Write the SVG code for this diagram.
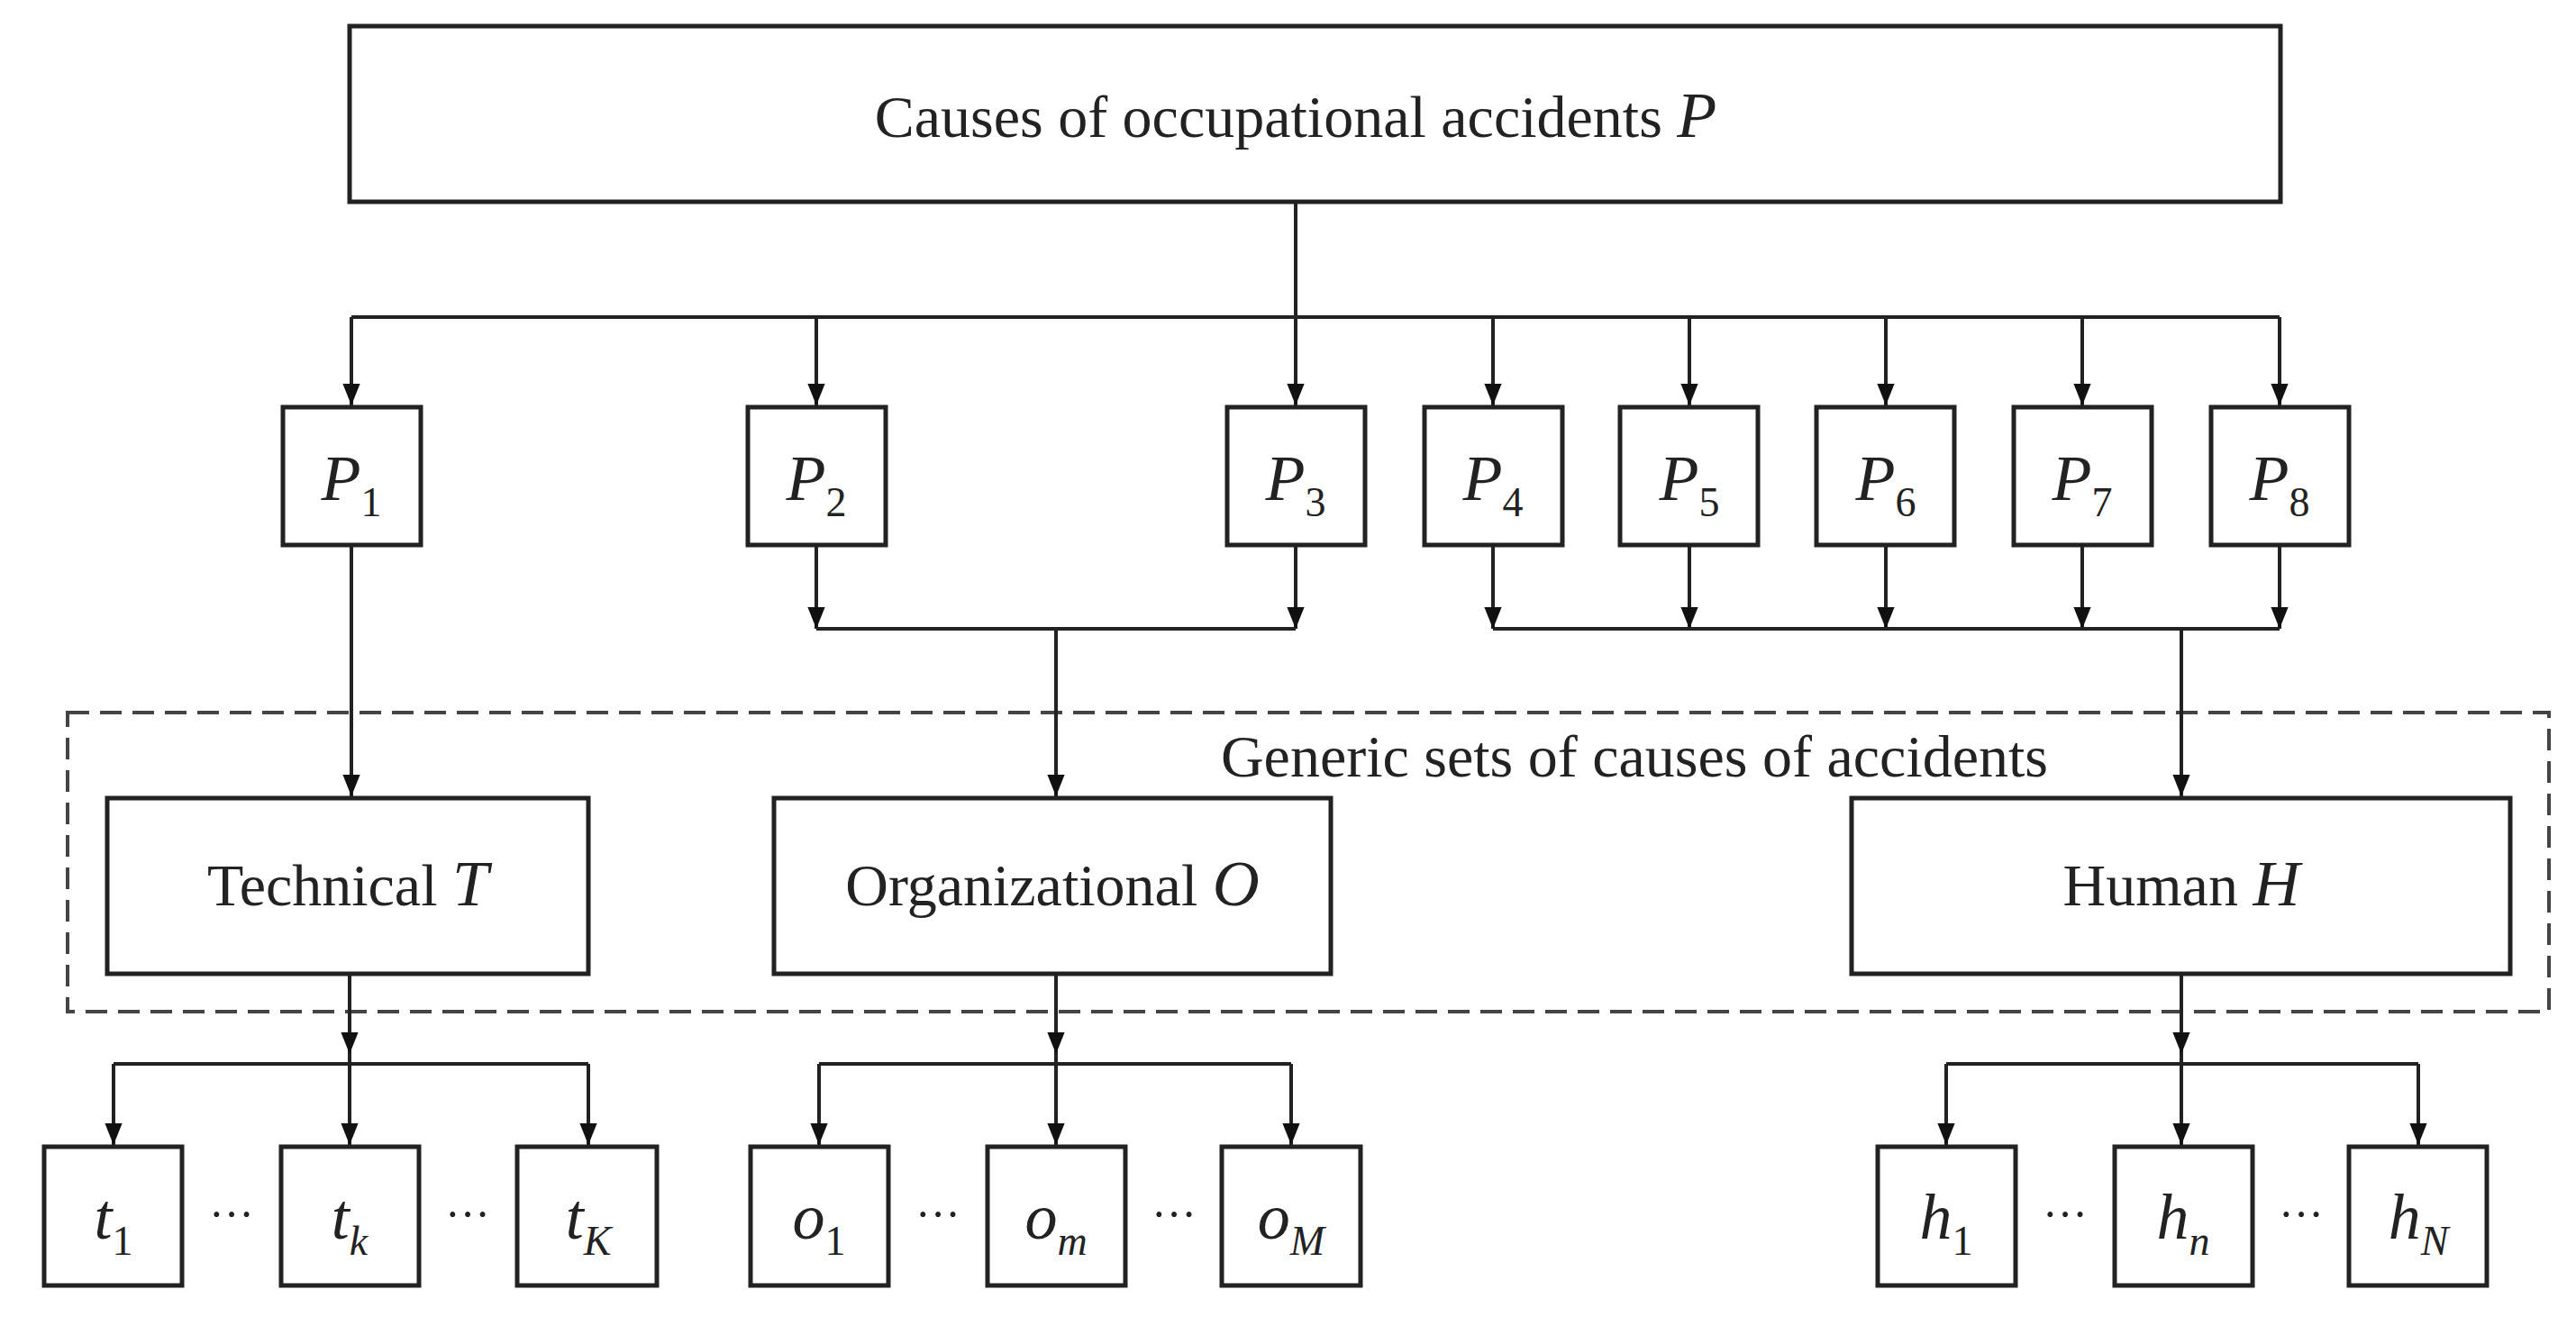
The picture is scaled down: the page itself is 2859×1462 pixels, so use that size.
<svg xmlns="http://www.w3.org/2000/svg" width="2859" height="1462" viewBox="0 0 2859 1462">
<defs>
<marker id="ar" markerWidth="24" markerHeight="30" refX="30" refY="12" orient="auto" markerUnits="userSpaceOnUse" viewBox="0 0 30 24"><path d="M0,0 L30,12 L0,24 z" fill="#111"/></marker>
<style>
.b{fill:#fff;stroke:#222;stroke-width:5}
.c{fill:none;stroke:#222;stroke-width:4}
.a{fill:none;stroke:#222;stroke-width:4;marker-end:url(#ar)}
text{font-family:"Liberation Serif","Times New Roman",serif;fill:#222;text-anchor:middle}
.t{font-size:66px}
.v{font-size:72px;font-style:italic}
.s{font-size:46px;font-style:normal}
.si{font-size:46px;font-style:italic}
</style>
</defs>
<rect x="75" y="791" width="2754" height="332" fill="none" stroke="#444" stroke-width="4" stroke-dasharray="24,12"/>
<text class="t" x="1814" y="862">Generic sets of causes of accidents</text>
<g id="connectors">
<path class="a" d="M1438,224 V450" />
<path class="c" d="M390,352 H2530"/>
<path class="a" d="M390,352 V450"/><path class="a" d="M906,352 V450"/><path class="a" d="M1657,352 V450"/><path class="a" d="M1875,352 V450"/><path class="a" d="M2093,352 V450"/><path class="a" d="M2311,352 V450"/><path class="a" d="M2530,352 V450"/>
<path class="a" d="M906,605 V698"/><path class="a" d="M1438,605 V698"/><path class="c" d="M906,698 H1438"/><path class="a" d="M1172,698 V884"/>
<path class="a" d="M1657,605 V698"/><path class="a" d="M1875,605 V698"/><path class="a" d="M2093,605 V698"/><path class="a" d="M2311,605 V698"/><path class="a" d="M2530,605 V698"/><path class="c" d="M1657,698 H2530"/><path class="a" d="M2421,698 V884"/>
<path class="a" d="M390,605 V884"/>
<path class="a" d="M388,1081 V1170"/><path class="c" d="M126,1181 H653"/><path class="a" d="M126,1181 V1271"/><path class="a" d="M388,1170 V1271"/><path class="a" d="M653,1181 V1271"/>
<path class="a" d="M1172,1081 V1170"/><path class="c" d="M909,1181 H1433"/><path class="a" d="M909,1181 V1271"/><path class="a" d="M1172,1170 V1271"/><path class="a" d="M1433,1181 V1271"/>
<path class="a" d="M2421,1081 V1170"/><path class="c" d="M2160,1181 H2684"/><path class="a" d="M2160,1181 V1271"/><path class="a" d="M2421,1170 V1271"/><path class="a" d="M2684,1181 V1271"/>
</g>
<g id="top"><rect class="b" x="388" y="29" width="2143" height="195"/><text class="t" x="1438" y="152">Causes of occupational accidents <tspan font-style="italic" font-size="72">P</tspan></text></g>
<g id="P1"><rect class="b" x="314" y="452" width="153" height="153"/><text class="v" x="390" y="555">P<tspan class="s" dy="18">1</tspan></text></g>
<g id="P2"><rect class="b" x="830" y="452" width="153" height="153"/><text class="v" x="906" y="555">P<tspan class="s" dy="18">2</tspan></text></g>
<g id="P3"><rect class="b" x="1362" y="452" width="153" height="153"/><text class="v" x="1438" y="555">P<tspan class="s" dy="18">3</tspan></text></g>
<g id="P4"><rect class="b" x="1581" y="452" width="153" height="153"/><text class="v" x="1657" y="555">P<tspan class="s" dy="18">4</tspan></text></g>
<g id="P5"><rect class="b" x="1798" y="452" width="153" height="153"/><text class="v" x="1875" y="555">P<tspan class="s" dy="18">5</tspan></text></g>
<g id="P6"><rect class="b" x="2016" y="452" width="153" height="153"/><text class="v" x="2093" y="555">P<tspan class="s" dy="18">6</tspan></text></g>
<g id="P7"><rect class="b" x="2235" y="452" width="153" height="153"/><text class="v" x="2311" y="555">P<tspan class="s" dy="18">7</tspan></text></g>
<g id="P8"><rect class="b" x="2454" y="452" width="153" height="153"/><text class="v" x="2530" y="555">P<tspan class="s" dy="18">8</tspan></text></g>
<g id="T"><rect class="b" x="119" y="886" width="534" height="195"/><text class="t" x="386" y="1005">Technical <tspan font-style="italic" font-size="72">T</tspan></text></g>
<g id="O"><rect class="b" x="859" y="886" width="618" height="195"/><text class="t" x="1168" y="1005">Organizational <tspan font-style="italic" font-size="72">O</tspan></text></g>
<g id="H"><rect class="b" x="2055" y="886" width="731" height="195"/><text class="t" x="2421" y="1005">Human <tspan font-style="italic" font-size="72">H</tspan></text></g>
<g id="t1"><rect class="b" x="49" y="1273" width="153" height="154"/><text class="v" x="126" y="1375">t<tspan class="s" dy="18">1</tspan></text></g>
<g id="tk"><rect class="b" x="312" y="1273" width="153" height="154"/><text class="v" x="388" y="1375">t<tspan class="si" dy="18">k</tspan></text></g>
<g id="tK"><rect class="b" x="574" y="1273" width="155" height="154"/><text class="v" x="653" y="1375">t<tspan class="si" dy="18">K</tspan></text></g>
<g id="o1"><rect class="b" x="833" y="1273" width="153" height="154"/><text class="v" x="909" y="1375">o<tspan class="s" dy="18">1</tspan></text></g>
<g id="om"><rect class="b" x="1096" y="1273" width="153" height="154"/><text class="v" x="1172" y="1375">o<tspan class="si" dy="18">m</tspan></text></g>
<g id="oM"><rect class="b" x="1356" y="1273" width="154" height="154"/><text class="v" x="1433" y="1375">o<tspan class="si" dy="18">M</tspan></text></g>
<g id="h1"><rect class="b" x="2084" y="1273" width="153" height="154"/><text class="v" x="2160" y="1375">h<tspan class="s" dy="18">1</tspan></text></g>
<g id="hn"><rect class="b" x="2347" y="1273" width="153" height="154"/><text class="v" x="2423" y="1375">h<tspan class="si" dy="18">n</tspan></text></g>
<g id="hN"><rect class="b" x="2607" y="1273" width="153" height="154"/><text class="v" x="2684" y="1375">h<tspan class="si" dy="18">N</tspan></text></g>
<g id="dots">
<text x="257" y="1365" style="font-size:50px">···</text><text x="519" y="1365" style="font-size:50px">···</text>
<text x="1041" y="1365" style="font-size:50px">···</text><text x="1303" y="1365" style="font-size:50px">···</text>
<text x="2292" y="1365" style="font-size:50px">···</text><text x="2554" y="1365" style="font-size:50px">···</text>
</g>
</svg>
